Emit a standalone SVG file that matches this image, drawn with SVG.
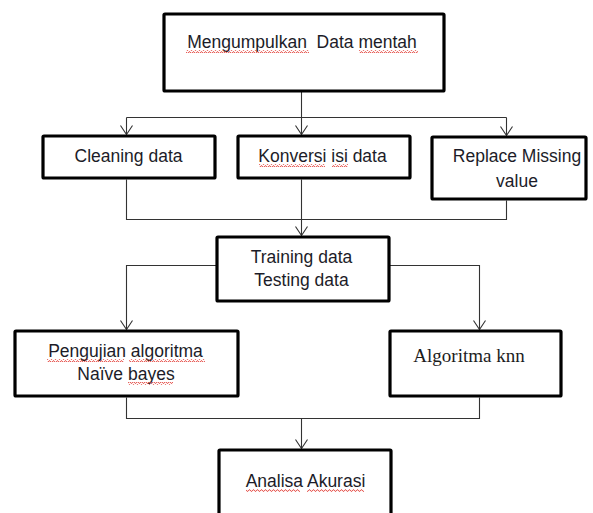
<svg xmlns="http://www.w3.org/2000/svg" width="593" height="513" viewBox="0 0 593 513">
  <style>
    .box { fill: #ffffff; stroke: #000000; stroke-width: 3.2; }
    .lbl { font-family: "Liberation Sans", Arial, sans-serif; font-size: 17.5px; fill: #1c1c28; text-anchor: middle; }
    .serif { font-family: "Liberation Serif", "Times New Roman", serif; font-size: 19px; fill: #1c1c1c; text-anchor: middle; }
    .conn { fill: none; stroke: #333333; stroke-width: 1.1; }
    .sq { fill: url(#squiggle); }
  </style>
  <defs>
    <marker id="arrow" markerUnits="userSpaceOnUse" markerWidth="20" markerHeight="20" refX="10" refY="10" orient="auto">
      <path d="M1,4 L10,10 L1,16" fill="none" stroke="#333333" stroke-width="1.1"/>
    </marker>
    <pattern id="squiggle" patternUnits="userSpaceOnUse" width="4" height="3">
      <path d="M0,2.3 L1,0.8 L2,0.8 L3,2.3 L4,2.3" fill="none" stroke="#e0302a" stroke-width="0.8"/>
    </pattern>
  </defs>

  <g id="connectors">
    <path class="conn" d="M301.5 92 V134.5" marker-end="url(#arrow)"/>
    <path class="conn" d="M126.5 117.5 H506.5"/>
    <path class="conn" d="M126.5 117.5 V134.5" marker-end="url(#arrow)"/>
    <path class="conn" d="M506.5 117.5 V135.5" marker-end="url(#arrow)"/>
    <path class="conn" d="M126.5 179.5 V219.5 H506.5 V200.5"/>
    <path class="conn" d="M301.5 179.5 V235.5" marker-end="url(#arrow)"/>
    <path class="conn" d="M217 265.5 H126.5 V329.5" marker-end="url(#arrow)"/>
    <path class="conn" d="M389 265.5 H479.5 V329.5" marker-end="url(#arrow)"/>
    <path class="conn" d="M126.5 397.5 V418.5 H479.5 V397.5"/>
    <path class="conn" d="M301.5 418.5 V448.5" marker-end="url(#arrow)"/>
  </g>

  <g id="node-mengumpulkan">
    <rect class="box" x="164" y="14" width="280" height="77" rx="1"/>
    <text class="lbl" x="302" y="48" xml:space="preserve">Mengumpulkan  Data mentah</text>
    <rect class="sq" x="186" y="50" width="123" height="3"/>
    <rect class="sq" x="359" y="50" width="59" height="3"/>
  </g>

  <g id="node-cleaning">
    <rect class="box" x="43" y="136" width="172" height="42" rx="1"/>
    <text class="lbl" x="128.5" y="162">Cleaning data</text>
  </g>

  <g id="node-konversi">
    <rect class="box" x="238" y="136" width="172" height="42" rx="1"/>
    <text class="lbl" x="322.5" y="162">Konversi isi data</text>
    <rect class="sq" x="259" y="164" width="66" height="3"/>
    <rect class="sq" x="332" y="164" width="16" height="3"/>
  </g>

  <g id="node-replace">
    <rect class="box" x="432" y="137" width="154" height="62" rx="1"/>
    <text class="lbl" x="517" y="162">Replace Missing</text>
    <text class="lbl" x="517" y="187">value</text>
  </g>

  <g id="node-training">
    <rect class="box" x="217" y="237" width="172" height="64" rx="1"/>
    <text class="lbl" x="301.5" y="263">Training data</text>
    <text class="lbl" x="301.5" y="286">Testing data</text>
  </g>

  <g id="node-pengujian">
    <rect class="box" x="15" y="331" width="223" height="65" rx="1"/>
    <text class="lbl" x="125.5" y="357">Pengujian algoritma</text>
    <text class="lbl" x="126" y="380">Naïve bayes</text>
    <rect class="sq" x="47" y="359" width="77" height="3"/>
    <rect class="sq" x="129" y="359" width="76" height="3"/>
    <rect class="sq" x="128" y="382" width="45" height="3"/>
  </g>

  <g id="node-knn">
    <rect class="box" x="390" y="331" width="171" height="65" rx="1"/>
    <text class="serif" x="469" y="362">Algoritma knn</text>
  </g>

  <g id="node-analisa">
    <rect class="box" x="219" y="450" width="172" height="80" rx="1"/>
    <text class="lbl" x="305.5" y="487">Analisa Akurasi</text>
    <rect class="sq" x="246" y="489" width="54" height="3"/>
    <rect class="sq" x="307" y="489" width="57" height="3"/>
  </g>
</svg>
